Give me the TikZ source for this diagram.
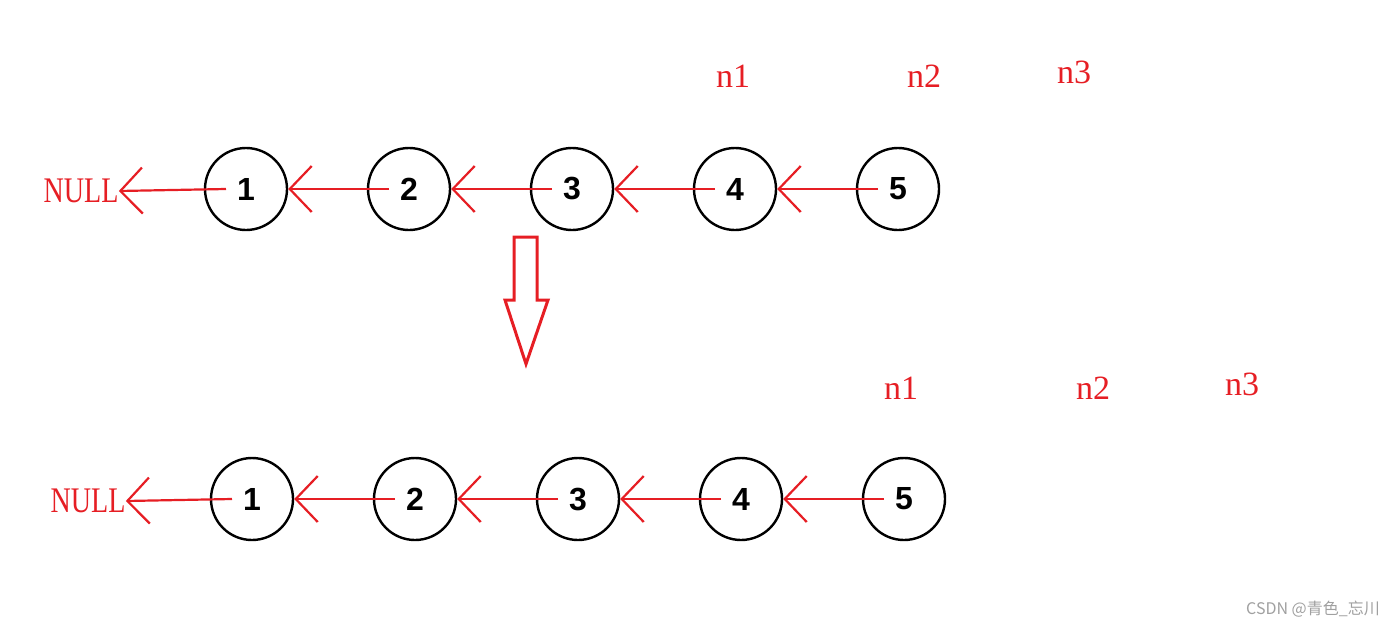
\documentclass[tikz,border=0pt]{standalone}
\usepackage{fontspec}
\setmainfont{Liberation Serif}
\newfontfamily\digitfont{Liberation Sans}
\newfontfamily\narrowserif[FakeStretch=0.78]{Liberation Serif}
\newfontfamily\cjk{Noto Sans CJK SC}
\usetikzlibrary{arrows.meta,positioning}
\definecolor{penred}{RGB}{230,30,36}
\definecolor{markgray}{RGB}{160,160,160}
\tikzset{%
	listnode/.style = {draw, circle, line width=1.2pt, minimum size=41pt, inner sep=0pt, font=\digitfont\bfseries\fontsize{16}{16}\selectfont}, % list element
	ptrtext/.style  = {text=penred, inner sep=0pt, font=\fontsize{17}{17}\selectfont}, % pointer name
	nulltext/.style = {text=penred, inner sep=0pt, font=\narrowserif\fontsize{18}{18}\selectfont}, % NULL
	link/.style     = {draw=penred, line width=1.1pt, -{Straight Barb[length=11pt,width=23pt]}},
}
\begin{document}
\begin{tikzpicture}[x=0.5pt, y=-0.5pt, node distance = 81.5pt]
	\useasboundingbox (0,0) rectangle (1400,627);
	% before
	\node[listnode] (a1) at (246,189) {1};
	\node[listnode,right of=a1] (a2) {2};
	\node[listnode,right of=a2] (a3) {3};
	\node[listnode,right of=a3] (a4) {4};
	\node[listnode,right of=a4] (a5) {5};
	\node[nulltext] (anull) at (81,191) {NULL};
	\node[ptrtext] (an1) at (733,76) {n1};
	\node[ptrtext] (an2) at (924,76) {n2};
	\node[ptrtext] (an3) at (1074,72) {n3};
	\draw[link] ([xshift=-10pt]a1.center) -- (anull.east);
	\draw[link] ([xshift=-10pt]a2.center) -- (a1.east);
	\draw[link] ([xshift=-10pt]a3.center) -- (a2.east);
	\draw[link] ([xshift=-10pt]a4.center) -- (a3.east);
	\draw[link] ([xshift=-10pt]a5.center) -- (a4.east);
	% big arrow
	\draw[penred, line width=1.5pt, line join=miter] (514,237) -- (537,237) -- (537,300) -- (548,300) -- (526,364) -- (505,300) -- (514,300) -- cycle;
	% after
	\node[listnode] (b1) at (252,499) {1};
	\node[listnode,right of=b1] (b2) {2};
	\node[listnode,right of=b2] (b3) {3};
	\node[listnode,right of=b3] (b4) {4};
	\node[listnode,right of=b4] (b5) {5};
	\node[nulltext] (bnull) at (88,501) {NULL};
	\node[ptrtext] (bn1) at (901,388) {n1};
	\node[ptrtext] (bn2) at (1093,388) {n2};
	\node[ptrtext] (bn3) at (1242,384) {n3};
	\draw[link] ([xshift=-10pt]b1.center) -- (bnull.east);
	\draw[link] ([xshift=-10pt]b2.center) -- (b1.east);
	\draw[link] ([xshift=-10pt]b3.center) -- (b2.east);
	\draw[link] ([xshift=-10pt]b4.center) -- (b3.east);
	\draw[link] ([xshift=-10pt]b5.center) -- (b4.east);
	\node[text=markgray, font=\cjk\fontsize{8}{8}\selectfont] (mark) at (1313,609) {CSDN @青色\_忘川};
\end{tikzpicture}
\end{document}
